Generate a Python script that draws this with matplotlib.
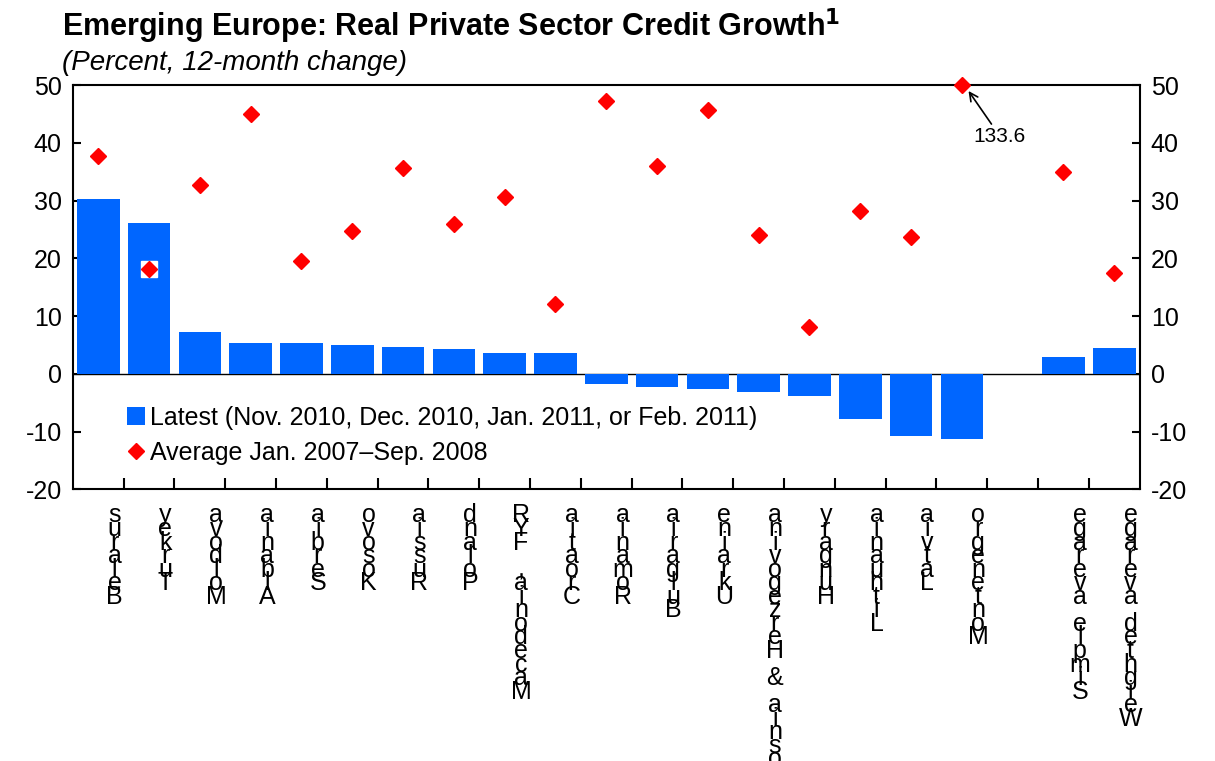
import matplotlib
matplotlib.use("Agg")
import matplotlib.pyplot as plt
import matplotlib.transforms as mtransforms
from matplotlib.lines import Line2D
from matplotlib.patches import Patch
import numpy as np

plt.rcParams['font.family'] = ['Liberation Sans', 'DejaVu Sans']
plt.rcParams['axes.unicode_minus'] = False

countries = ["Belarus", "Turkey", "Moldova", "Albania", "Serbia", "Kosovo", "Russia",
             "Poland", "Macedonia, FYR", "Croatia", "Romania", "Bulgaria", "Ukraine",
             "Bosnia & Herzegovina", "Hungary", "Lithuania", "Latvia", "Montenegro",
             "", "Simple average", "Weighted average"]
latest = [30.3, 26.2, 7.2, 5.3, 5.3, 5.0, 4.6, 4.3, 3.7, 3.6, -1.8, -2.2, -2.7,
          -3.2, -3.9, -7.8, -10.7, -11.2, np.nan, 2.9, 4.4]
average = [37.7, 18.1, 32.7, 45.0, 19.5, 24.7, 35.6, 25.9, 30.6, 12.1, 47.2, 36.0,
           45.7, 24.0, 8.2, 28.3, 23.7, 133.6, np.nan, 34.9, 17.4]

blue = "#0066FF"
red = "#FF0000"

fig = plt.figure(figsize=(12.15, 7.61), dpi=100)
ax = fig.add_axes([0.060, 0.357, 0.878, 0.531])

x = np.arange(len(countries))
ax.bar(x, latest, width=0.84, color=blue, zorder=2)

ymax = 50
avg_plot = np.minimum(np.array(average), ymax)
# white box behind Turkey marker
ax.plot(x[1], avg_plot[1], marker='s', markersize=11, color='white', ls='none', zorder=3)
ax.plot(x, avg_plot, marker='D', markersize=8.5, color=red, ls='none', zorder=4, clip_on=False)

ax.axhline(0, color='black', lw=1, zorder=1)

ax.annotate("133.6", xy=(x[17] + 0.1, ymax - 0.6), xytext=(x[17] + 0.75, ymax - 10.5),
            fontsize=15, ha='center', va='bottom',
            arrowprops=dict(arrowstyle='->', color='black', lw=1.2, shrinkA=0, shrinkB=2))

ax.set_xlim(-0.5, len(countries) - 0.5)
ax.set_ylim(-20, 50)
ax.set_yticks(range(-20, 51, 10))
ax.tick_params(axis='y', direction='in', length=6, width=1.5, labelsize=18,
               left=True, right=True, labelleft=True, labelright=True, pad=8)
ax.set_xticks(np.arange(0.5, len(countries) - 1, 1))
ax.set_xticklabels([])
ax.tick_params(axis='x', direction='in', length=8, width=1.5)
for s in ax.spines.values():
    s.set_linewidth(1.5)

trans = mtransforms.blended_transform_factory(ax.transData, ax.transAxes)
for i, name in enumerate(countries):
    if not name:
        continue
    stacked = "\n".join(name[::-1])
    ax.text(i + 0.32, -0.035, stacked, transform=trans, ha='center', va='top',
            multialignment='center', fontsize=18, linespacing=0.45)

handles = [Patch(facecolor=blue, edgecolor='none'),
           Line2D([], [], marker='D', color=red, ls='none', markersize=8.5)]
labels = ["Latest (Nov. 2010, Dec. 2010, Jan. 2011, or Feb. 2011)",
          "Average Jan. 2007\u2013Sep. 2008"]
ax.legend(handles, labels, loc='lower left', bbox_to_anchor=(0.03, 0.005), frameon=False,
          fontsize=18, handlelength=0.7, handletextpad=0.2, labelspacing=0.45)

fig.text(0.051, 0.952, "Emerging Europe: Real Private Sector Credit Growth$^{\\mathbf{1}}$",
         fontsize=22, fontweight='bold', ha='left', va='baseline')
fig.text(0.051, 0.908, "(Percent, 12-month change)", fontsize=20, style='italic',
         ha='left', va='baseline')

fig.savefig("out.png", dpi=100)
